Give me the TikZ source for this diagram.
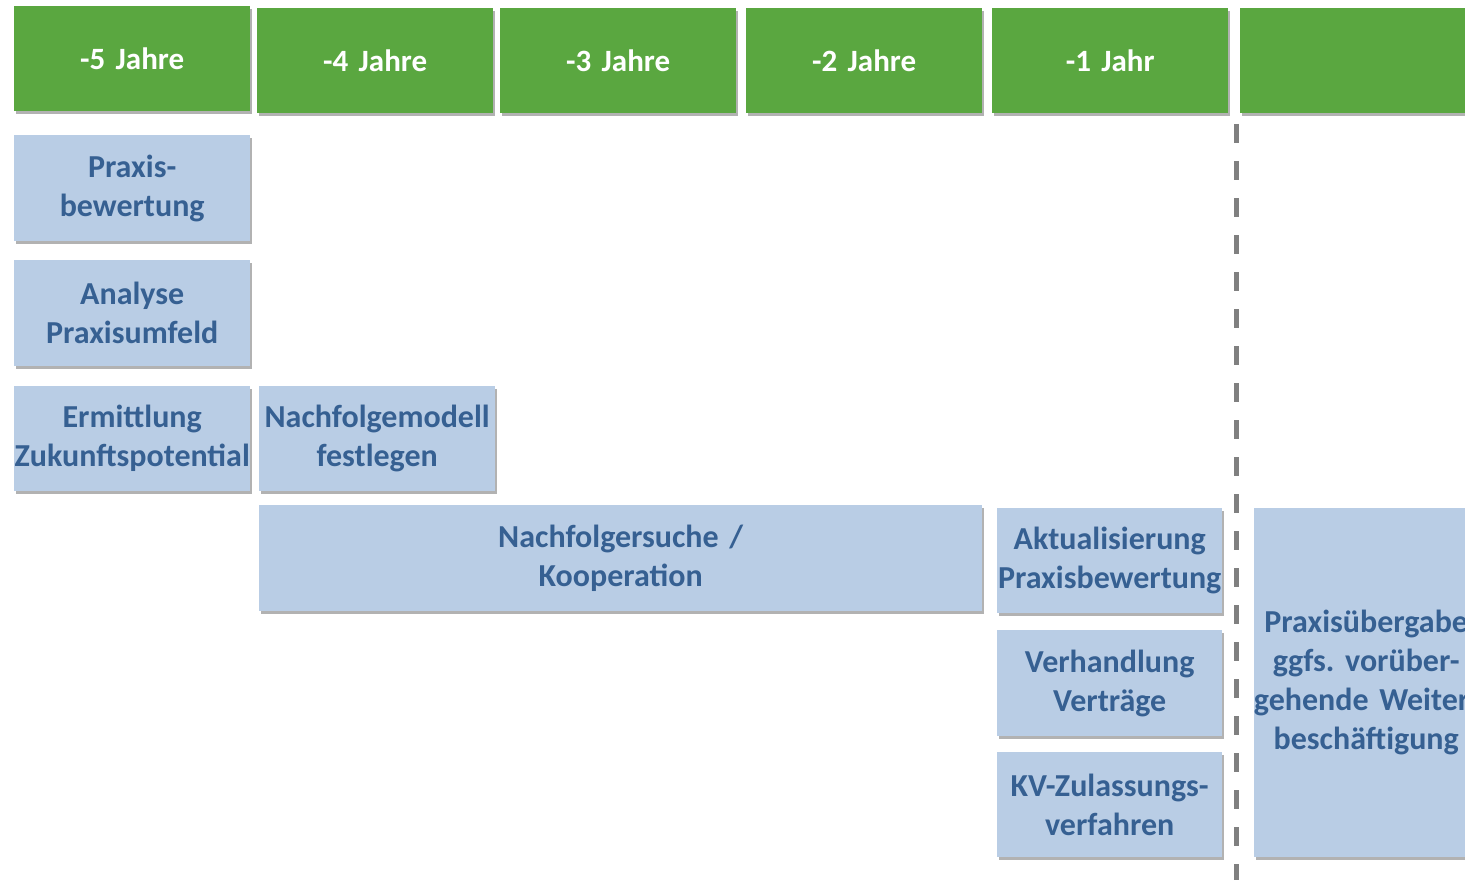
\documentclass[tikz,border=0pt]{standalone}
\usepackage{fontspec}
\setmainfont{Carlito}
\usetikzlibrary{shadows}
\definecolor{hgreen}{RGB}{90,167,64}
\definecolor{bbox}{RGB}{185,205,229}
\definecolor{btext}{RGB}{54,96,146}
\definecolor{dgray}{RGB}{128,128,128}
\frenchspacing
\begin{document}
\begin{tikzpicture}[x=1pt,y=-1pt,
  shad/.style={drop shadow={shadow xshift=2pt,shadow yshift=-3pt,opacity=0.3,fill=black}},
  head/.style={shad,fill=hgreen,anchor=north west,inner sep=0pt,align=center,
    text=white,font=\bfseries\fontsize{31}{36}\selectfont},
  task/.style={shad,fill=bbox,anchor=north west,inner sep=0pt,align=center,
    text=btext,font=\bfseries\fontsize{32}{39}\selectfont},
  sep/.style={draw=dgray,line width=5pt,dash pattern=on 19pt off 18pt}]
\useasboundingbox (0,0) rectangle (1465,880);
% headers
\node[head,minimum width=236pt,minimum height=105pt,text width=236pt] (h1) at (14,6) {-5 Jahre};
\node[head,minimum width=236pt,minimum height=105pt,text width=236pt] (h2) at (257,8) {-4 Jahre};
\node[head,minimum width=236pt,minimum height=105pt,text width=236pt] (h3) at (500,8) {-3 Jahre};
\node[head,minimum width=236pt,minimum height=105pt,text width=236pt] (h4) at (746,8) {-2 Jahre};
\node[head,minimum width=236pt,minimum height=105pt,text width=236pt] (h5) at (992,8) {-1 Jahr};
\node[head,minimum width=236pt,minimum height=105pt,text width=236pt] (h6) at (1240,8) {};
% tasks
\node[task,minimum width=236pt,minimum height=106pt,text width=236pt] (t1) at (14,135) {Praxis-\\bewertung};
\node[task,minimum width=236pt,minimum height=106pt,text width=236pt] (t2) at (14,260) {Analyse\\Praxisumfeld};
\node[task,minimum width=236pt,minimum height=105pt,text width=236pt] (t3) at (14,386) {Ermittlung\\Zukunftspotential};
\node[task,minimum width=236pt,minimum height=105pt,text width=236pt] (t4) at (259,386) {Nachfolgemodell\\festlegen};
\node[task,minimum width=723pt,minimum height=106pt,text width=723pt] (t5) at (259,505) {Nachfolgersuche /\\Kooperation};
\node[task,minimum width=225pt,minimum height=105pt,text width=225pt] (t6) at (997,508) {Aktualisierung\\Praxisbewertung};
\node[task,minimum width=225pt,minimum height=106pt,text width=225pt] (t7) at (997,630) {Verhandlung\\Verträge};
\node[task,minimum width=225pt,minimum height=105pt,text width=225pt] (t8) at (997,752) {KV-Zulassungs-\\verfahren};
\node[task,minimum width=224pt,minimum height=349pt,text width=224pt] (t9) at (1254,508)
  {\makebox[224pt][c]{Praxisübergabe}\\\makebox[224pt][c]{ggfs. vorüber-}\\\makebox[224pt][c]{gehende Weiter-}\\\makebox[224pt][c]{beschäftigung}};
% separator
\coordinate (s1) at (1236,124);
\coordinate (s2) at (1236,880);
\draw[sep] (s1) -- (s2);
\end{tikzpicture}
\end{document}
